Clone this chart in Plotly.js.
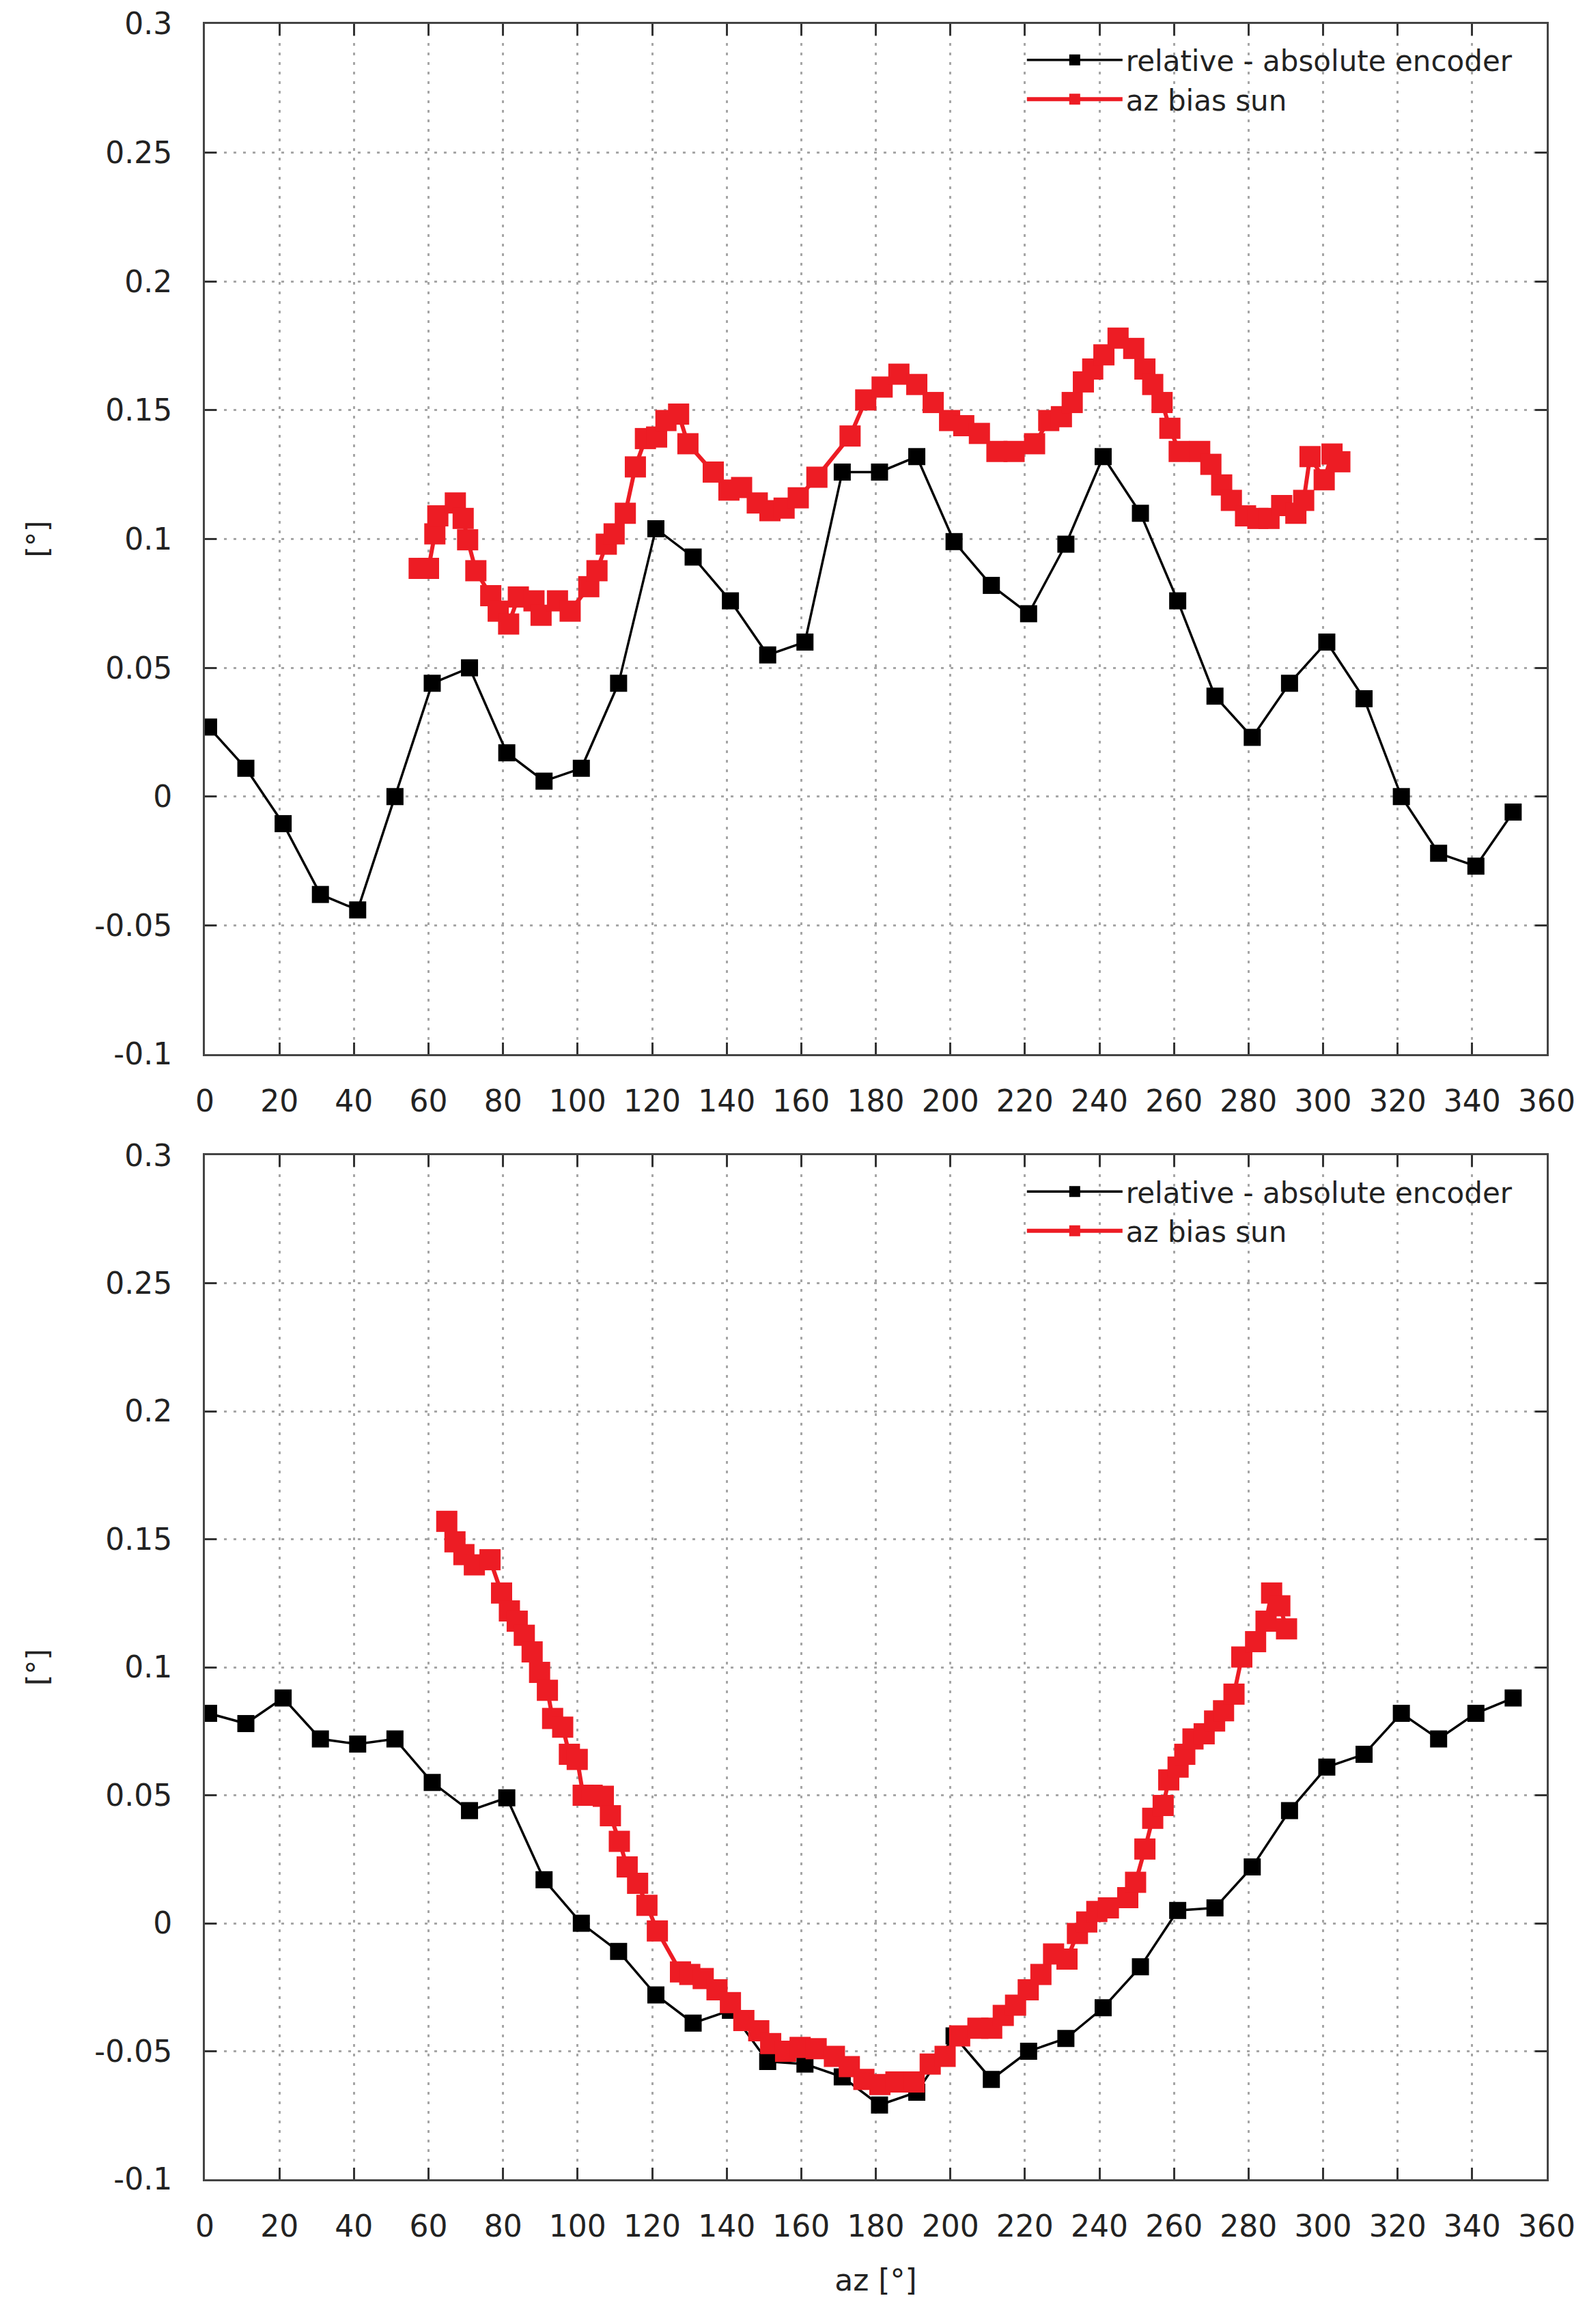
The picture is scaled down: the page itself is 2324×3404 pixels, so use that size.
<!DOCTYPE html>
<html>
<head>
<meta charset="utf-8">
<script src="https://cdn.plot.ly/plotly-3.0.1.min.js"></script>
<style>
  html, body { margin: 0; padding: 0; background: #fff; }
  #chart { width: 2324px; height: 3404px; }
</style>
</head>
<body>
<div id="chart"></div>
<script>
// ---- data ----
const azEncoder = [1, 11, 21, 31, 41, 51, 61, 71, 81, 91, 101, 111, 121, 131, 141, 151, 161, 171,
                   181, 191, 201, 211, 221, 231, 241, 251, 261, 271, 281, 291, 301, 311, 321, 331, 341, 351];

const encoderTop = [0.027, 0.011, -0.0105, -0.038, -0.044, 0.0, 0.044, 0.05, 0.017, 0.006, 0.011, 0.044,
                    0.104, 0.093, 0.076, 0.055, 0.060, 0.126, 0.126, 0.132, 0.099, 0.082, 0.071, 0.098,
                    0.132, 0.110, 0.076, 0.039, 0.023, 0.044, 0.060, 0.038, 0.0, -0.022, -0.027, -0.006];

const encoderBottom = [0.082, 0.078, 0.088, 0.072, 0.070, 0.072, 0.055, 0.044, 0.049, 0.017, 0.0, -0.011,
                       -0.028, -0.039, -0.034, -0.054, -0.055, -0.060, -0.071, -0.066, -0.044, -0.061, -0.050, -0.045,
                       -0.033, -0.017, 0.005, 0.006, 0.022, 0.044, 0.061, 0.066, 0.082, 0.072, 0.082, 0.088];

const azSunTop = [57.5, 60.0, 61.7, 62.5, 67.2, 69.3, 70.5, 72.7, 76.7, 78.7, 81.5, 84.1, 88.3, 90.2, 94.6,
                  98.0, 103.0, 105.2, 107.7, 109.8, 112.8, 115.5, 118.2, 121.2, 123.7, 127.1, 129.6, 136.4,
                  140.6, 144.0, 148.2, 151.6, 155.4, 159.2, 164.2, 173.1, 177.3, 181.7, 186.2, 191.0, 195.4,
                  199.8, 203.6, 207.8, 212.5, 217.1, 222.6, 226.4, 229.8, 232.7, 235.7, 238.2, 241.2, 245.0,
                  249.2, 252.2, 254.3, 256.8, 258.9, 261.4, 266.9, 269.9, 272.8, 275.4, 279.2, 282.5, 285.5,
                  288.9, 292.7, 294.8, 296.5, 300.3, 302.4, 304.5];

const sunBiasTop = [0.0886, 0.0886, 0.102, 0.109, 0.114, 0.108, 0.0997, 0.0877, 0.078, 0.072, 0.067, 0.0775,
                    0.076, 0.0704, 0.076, 0.072, 0.0815, 0.0877, 0.098, 0.102, 0.110, 0.128, 0.139, 0.1396,
                    0.146, 0.1485, 0.137, 0.126, 0.119, 0.120, 0.114, 0.111, 0.112, 0.116, 0.124, 0.140,
                    0.154, 0.159, 0.164, 0.160, 0.153, 0.146, 0.144, 0.141, 0.134, 0.134, 0.137, 0.146,
                    0.1475, 0.153, 0.161, 0.166, 0.1715, 0.178, 0.174, 0.166, 0.160, 0.153, 0.143, 0.134,
                    0.134, 0.129, 0.121, 0.115, 0.109, 0.108, 0.108, 0.113, 0.110, 0.115, 0.132, 0.123,
                    0.133, 0.130];

const azSunBottom = [64.9, 67.1, 69.5, 72.3, 76.5, 79.6, 81.7, 83.8, 85.7, 87.8, 89.8, 91.9, 93.3, 96.0, 97.8,
                     99.9, 101.5, 103.9, 106.9, 108.8, 111.2, 113.3, 116.1, 118.6, 121.4, 127.6, 130.1, 133.7,
                     137.4, 141.0, 144.6, 148.6, 151.8, 155.8, 159.7, 164.0, 168.9, 172.9, 176.8, 181.1, 185.4,
                     190.3, 194.6, 198.6, 202.5, 207.4, 211.1, 214.2, 217.5, 220.9, 224.3, 227.7, 231.3, 234.1,
                     236.6, 239.3, 242.4, 247.6, 249.7, 252.2, 254.3, 257.1, 258.6, 261.1, 262.9, 265.1, 268.1,
                     270.9, 273.3, 276.1, 278.2, 281.9, 284.7, 286.2, 288.4, 290.2];

const sunBiasBottom = [0.157, 0.149, 0.144, 0.140, 0.142, 0.129, 0.122, 0.118, 0.1125, 0.106, 0.098, 0.091,
                       0.080, 0.0766, 0.066, 0.064, 0.050, 0.050, 0.0496, 0.042, 0.032, 0.022, 0.0156, 0.007,
                       -0.003, -0.019, -0.020, -0.0216, -0.026, -0.031, -0.038, -0.042, -0.047, -0.050, -0.0485,
                       -0.049, -0.052, -0.056, -0.061, -0.063, -0.062, -0.062, -0.055, -0.052, -0.044, -0.041,
                       -0.041, -0.036, -0.032, -0.026, -0.020, -0.012, -0.014, -0.004, 0.0005, 0.0046, 0.006,
                       0.010, 0.016, 0.029, 0.041, 0.046, 0.056, 0.061, 0.066, 0.072, 0.074, 0.079, 0.083,
                       0.0895, 0.104, 0.110, 0.118, 0.129, 0.124, 0.115];

const seriesNames = ['relative - absolute encoder', 'az bias sun'];
const xTickVals = [0, 20, 40, 60, 80, 100, 120, 140, 160, 180, 200, 220, 240, 260, 280, 300, 320, 340, 360];
const xTickText = ['0', '20', '40', '60', '80', '100', '120', '140', '160', '180', '200', '220', '240', '260', '280', '300', '320', '340', '360'];
const yTickVals = [-0.1, -0.05, 0, 0.05, 0.1, 0.15, 0.2, 0.25, 0.3];
const yTickText = ['-0.1', '-0.05', '0', '0.05', '0.1', '0.15', '0.2', '0.25', '0.3'];
const xTitle = 'az [°]';
const yTitle = '[°]';

// ---- styles ----
const FONT = 'DejaVu Sans, Verdana, sans-serif';
const TXT = '#222222';
const BLACK = '#000000';
const RED = '#ed1c24';

function encoderTrace(y, xa, ya, leg) {
  return {
    x: azEncoder, y: y, xaxis: xa, yaxis: ya, legend: leg,
    name: seriesNames[0], type: 'scatter', mode: 'lines+markers',
    line: { color: BLACK, width: 3.5 },
    marker: { symbol: 'square', size: 25, color: BLACK }
  };
}
function sunTrace(x, y, xa, ya, leg) {
  return {
    x: x, y: y, xaxis: xa, yaxis: ya, legend: leg,
    name: seriesNames[1], type: 'scatter', mode: 'lines+markers',
    line: { color: RED, width: 6 },
    marker: { symbol: 'square', size: 31, color: RED }
  };
}

const traces = [
  encoderTrace(encoderTop, 'x', 'y', 'legend'),
  sunTrace(azSunTop, sunBiasTop, 'x', 'y', 'legend'),
  encoderTrace(encoderBottom, 'x2', 'y2', 'legend2'),
  sunTrace(azSunBottom, sunBiasBottom, 'x2', 'y2', 'legend2')
];

const GRID = { showgrid: true, gridcolor: '#a6a6a6', gridwidth: 3, griddash: '4px,10px' };

function xAxis(anchor, withTitle) {
  const ax = Object.assign({
    anchor: anchor, domain: [0, 1], range: [0, 360],
    tickmode: 'array', tickvals: xTickVals, ticktext: xTickText,
    ticks: 'inside', ticklen: 17, tickwidth: 3, tickcolor: '#333',
    showline: true, linecolor: '#444', linewidth: 3, mirror: 'allticks',
    zeroline: false, ticklabelstandoff: 28,
    tickfont: { family: FONT, size: 44, color: TXT }
  }, GRID);
  if (withTitle) {
    ax.title = { text: xTitle, font: { family: FONT, size: 44, color: TXT }, standoff: 40 };
  }
  return ax;
}
function yAxis(anchor, domain) {
  return Object.assign({
    anchor: anchor, domain: domain, range: [-0.1, 0.3],
    tickmode: 'array', tickvals: yTickVals, ticktext: yTickText,
    ticks: 'inside', ticklen: 17, tickwidth: 3, tickcolor: '#333',
    showline: true, linecolor: '#444', linewidth: 3, mirror: 'allticks',
    zeroline: false, ticklabelstandoff: 36,
    tickfont: { family: FONT, size: 44, color: TXT },
    title: { text: yTitle, font: { family: FONT, size: 42, color: TXT }, standoff: 55 }
  }, GRID);
}

const legendStyle = {
  xanchor: 'right', yanchor: 'top', x: 0.977,
  bgcolor: 'rgba(0,0,0,0)', borderwidth: 0,
  font: { family: FONT, size: 42, color: TXT },
  itemwidth: 140, tracegroupgap: 0
};

const layout = {
  width: 2324, height: 3404,
  margin: { l: 300, r: 59, t: 35, b: 212 },
  paper_bgcolor: '#ffffff', plot_bgcolor: '#ffffff',
  font: { family: FONT, color: TXT },
  showlegend: true,
  xaxis: xAxis('y', false),
  yaxis: yAxis('x', [0.522, 1]),
  xaxis2: xAxis('y2', true),
  yaxis2: yAxis('x2', [0, 0.4751]),
  legend: Object.assign({}, legendStyle, { y: 0.994 }),
  legend2: Object.assign({}, legendStyle, { y: 0.469 })
};

Plotly.newPlot('chart', traces, layout, { staticPlot: true, displayModeBar: false });
</script>
</body>
</html>
